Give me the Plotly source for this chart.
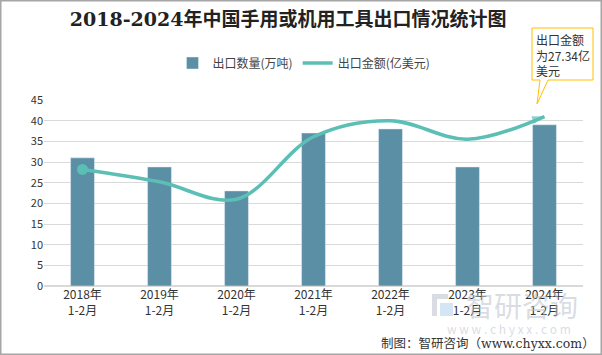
import plotly.graph_objects as go

categories = ["2018年<br>1-2月", "2019年<br>1-2月", "2020年<br>1-2月", "2021年<br>1-2月",
              "2022年<br>1-2月", "2023年<br>1-2月", "2024年<br>1-2月"]
quantity = [31.0, 28.8, 23.0, 37.0, 38.0, 28.8, 39.0]
amount = [28.2, 25.2, 21.0, 36.1, 40.0, 35.5, 41.0]
y_ticks = [0, 5, 10, 15, 20, 25, 30, 35, 40, 45]

bar_color = "#5B8FA6"
line_color = "#5BBFB5"
font_cn = "Noto Sans CJK SC"

W, H = 602, 355
L, R, T, B = 44, 19, 100, 69
PW, PH = W - L - R, H - T - B


def px(x):
    return (x - L) / PW


def py(y):
    return (H - B - y) / PH


fig = go.Figure()
fig.add_trace(go.Bar(x=categories, y=quantity, name="出口数量(万吨)",
                     marker_color=bar_color, width=0.31))
fig.add_trace(go.Scatter(x=categories, y=amount, name="出口金额(亿美元)", mode="lines+markers",
                         line=dict(color=line_color, width=3.5, shape="spline", smoothing=1.0),
                         marker=dict(symbol="arrow", size=[0] * (len(amount) - 1) + [13],
                                     color=line_color, angleref="previous", line=dict(width=0)),
                         cliponaxis=False))
fig.add_trace(go.Scatter(x=categories[:1], y=amount[:1], mode="markers", showlegend=False,
                         marker=dict(symbol="circle", size=11, color=line_color), hoverinfo="skip"))

wm = "rgba(185,192,204,0.55)"
fig.update_layout(
    width=W, height=H,
    margin=dict(l=L, r=R, t=T, b=B, autoexpand=False),
    paper_bgcolor="white", plot_bgcolor="white",
    font=dict(family=font_cn, size=12, color="#333333"),
    title=dict(text="<b>2018-2024年中国手用或机用工具出口情况统计图</b>", x=px(302), xanchor="center",
               y=1 - 19 / H, yanchor="middle",
               font=dict(family="DejaVu Serif, Noto Sans CJK SC", size=19, color="#222222")),
    legend=dict(orientation="h", x=px(304), xanchor="center", yref="container", y=1 - 63 / H, yanchor="middle",
                font=dict(size=12, color="#444444"), traceorder="normal", itemwidth=30),
    showlegend=True,
    xaxis=dict(showgrid=False, showline=False, ticks="", automargin=False,
               tickfont=dict(size=12, color="#333333")),
    yaxis=dict(range=[0, 45], tickvals=y_ticks, showgrid=True, gridcolor="#D9D9D9", gridwidth=1,
               zeroline=True, zerolinecolor="#D9D9D9", ticks="", automargin=False,
               tickfont=dict(size=11, color="#333333"), showline=False),
    shapes=[
        dict(type="rect", xref="paper", yref="paper", x0=px(0.75), x1=px(W - 0.75),
             y0=py(H - 0.75), y1=py(0.75),
             line=dict(color="#A6A6A6", width=1.5), fillcolor="rgba(0,0,0,0)", layer="above"),
        dict(type="path", xref="paper", yref="paper",
             path=f"M {px(532)},{py(28)} L {px(593)},{py(28)} L {px(593)},{py(80)} "
                  f"L {px(548)},{py(80)} L {px(537)},{py(104)} L {px(540)},{py(80)} "
                  f"L {px(532)},{py(80)} Z",
             line=dict(color="#FFC000", width=1), fillcolor="white", layer="above"),
        dict(type="rect", xref="paper", yref="paper", x0=px(432), x1=px(448), y0=py(299), y1=py(294),
             line=dict(width=0), fillcolor=wm, layer="below"),
        dict(type="rect", xref="paper", yref="paper", x0=px(432), x1=px(437), y0=py(316), y1=py(299),
             line=dict(width=0), fillcolor=wm, layer="below"),
        dict(type="rect", xref="paper", yref="paper", x0=px(440), x1=px(453), y0=py(316), y1=py(303),
             line=dict(width=0), fillcolor="rgba(160,200,235,0.45)", layer="below"),
    ],
    annotations=[
        dict(xref="paper", yref="paper", x=px(534), y=py(29), xanchor="left", yanchor="top",
             text="出口金额<br>为27.34亿<br>美元", showarrow=False, align="left",
             font=dict(size=12, color="#333333")),
        dict(xref="paper", yref="paper", x=px(522), y=py(305), xanchor="center", yanchor="middle",
             text="智研咨询", showarrow=False, font=dict(size=28, color=wm)),
        dict(xref="paper", yref="paper", x=px(509), y=py(328), xanchor="center", yanchor="middle",
             text="w w w . c h y x x . c o m", showarrow=False, font=dict(size=12, color=wm)),
        dict(xref="paper", yref="paper", x=px(597), y=py(343), xanchor="right", yanchor="middle",
             text="制图：智研咨询（www.chyxx.com）", showarrow=False,
             font=dict(family="DejaVu Serif, Noto Sans CJK SC", size=12.5, color="#333333")),
    ],
)
fig.write_html("out.html", config={"displayModeBar": False},
               post_script="document.body.style.margin='0';document.body.style.overflow='hidden';")
